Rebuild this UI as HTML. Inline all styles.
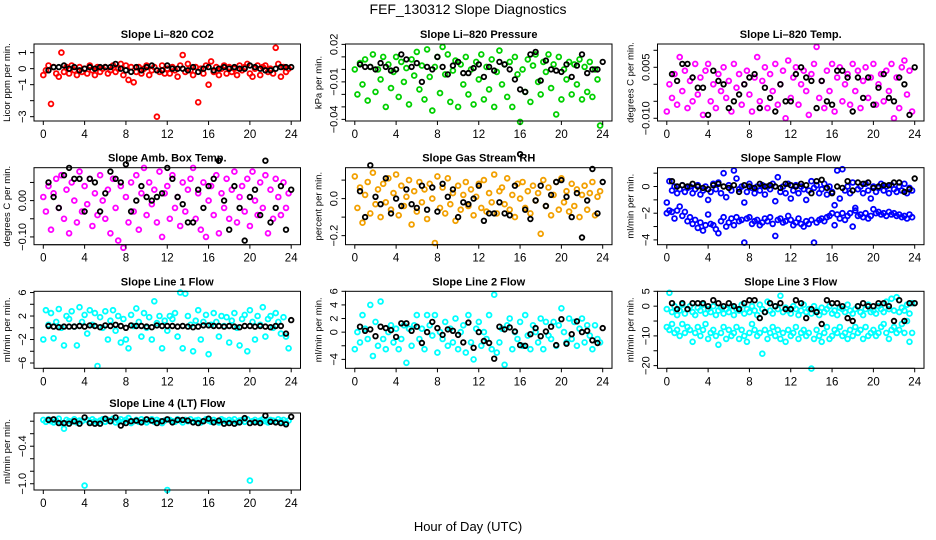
<!DOCTYPE html>
<html><head><meta charset="utf-8"><style>
body{margin:0;background:#fff}
svg{display:block;font-family:"Liberation Sans",Arial,sans-serif}
</style></head><body>
<svg id="chart" width="936" height="540" viewBox="0 0 936 540" xmlns="http://www.w3.org/2000/svg">
<rect width="936" height="540" fill="#fff"/>
<text x="468" y="14" text-anchor="middle" font-size="14">FEF_130312  Slope Diagnostics</text>
<text x="468" y="531" text-anchor="middle" font-size="13">Hour of Day (UTC)</text>
</svg>
<script>
const xTicks=[0,4,8,12,16,20,24];
const co2Color=[-0.4,-0.1,0.2,-2.2,0.1,-0.3,-0.5,1.0,-0.2,0.1,-0.3,0.2,-0.1,-0.4,0.1,-0.2,0.0,-0.3,0.2,-0.1,-0.4,0.1,-0.2,0.0,0.1,-0.3,-0.1,0.2,-0.2,0.0,0.3,-0.4,0.2,-0.7,0.1,-0.85,-0.2,0.1,-0.3,0.0,0.2,-0.4,-0.1,0.1,-3.0,-0.2,0.2,-0.3,0.0,-0.3,0.1,-0.1,-0.5,0.2,0.85,-0.2,0.3,-0.1,-0.4,0.1,-2.1,0.0,-0.3,0.2,-1.0,0.45,-0.2,0.1,-0.4,0.0,0.2,-0.3,0.1,-0.2,0.0,-0.4,0.2,-0.1,0.1,0.3,-0.3,-0.5,0.0,0.2,-0.4,0.1,0.2,-0.2,0.0,-0.3,1.3,0.3,-0.5,0.1,-0.2,0.0];
const co2Black=[-0.1,0.1,0.1,0.2,0.0,0.1,-0.1,0.0,0.1,0.0,0.1,0.1,0.1,0.3,0.0,-0.1,-0.2,0.1,-0.1,0.1,0.2,-0.1,-0.1,0.2,0.0,0.0,0.0,-0.1,0.1,-0.2,0.0,0.1,-0.1,0.0,0.1,0.0,0.1,0.0,0.0,0.2,0.1,0.0,-0.1,-0.1,0.0,0.1,0.1,0.1];
const presColor=[0.000,-0.020,0.005,-0.012,0.008,-0.025,0.002,0.012,-0.018,0.000,-0.008,0.010,-0.030,0.004,-0.015,-0.002,0.010,-0.022,0.006,-0.010,0.001,-0.028,0.008,-0.005,0.014,-0.016,0.003,-0.024,0.016,-0.006,-0.033,0.002,0.010,-0.019,0.018,-0.004,0.012,-0.026,-0.001,0.007,-0.030,0.004,-0.012,0.010,-0.020,0.000,-0.028,0.006,-0.008,0.012,-0.024,0.002,-0.016,0.008,-0.030,-0.002,0.015,-0.012,0.004,-0.022,0.006,-0.030,0.010,-0.004,-0.042,0.000,-0.018,0.008,-0.026,0.003,0.012,-0.010,-0.020,0.006,-0.002,0.012,-0.015,0.004,-0.036,0.010,-0.024,0.000,-0.008,0.006,-0.020,0.004,-0.012,0.008,-0.024,0.002,-0.018,0.006,-0.022,0.000,-0.008,-0.045];
const presBlack=[0.004,0.002,0.002,0.000,0.005,0.002,-0.001,0.000,0.012,0.008,0.002,0.005,-0.010,0.002,0.000,0.010,0.002,-0.004,0.003,0.006,-0.003,-0.003,0.001,0.004,-0.006,0.002,-0.001,0.006,0.004,0.000,-0.008,-0.016,-0.018,0.012,0.014,-0.009,0.007,0.000,-0.001,-0.002,0.004,-0.006,0.003,0.012,-0.003,0.000,0.000,0.006];
const tempColor=[-0.008,0.000,-0.004,0.003,-0.006,0.008,-0.002,0.004,-0.007,0.001,-0.005,0.006,-0.003,0.002,-0.009,0.004,0.006,-0.005,0.000,-0.007,0.003,-0.002,0.005,-0.004,0.001,-0.008,0.006,-0.001,0.003,-0.006,0.000,0.004,-0.003,-0.008,0.002,0.008,-0.005,0.001,0.005,-0.007,0.003,-0.002,0.006,-0.006,0.000,0.004,-0.010,0.007,-0.004,0.002,0.005,-0.006,0.000,0.004,-0.002,-0.009,0.003,0.006,0.011,-0.004,0.001,-0.007,0.004,-0.002,0.006,-0.008,0.002,0.005,-0.005,0.000,0.003,-0.006,0.006,-0.002,0.004,-0.007,0.001,0.005,-0.004,0.002,0.006,-0.006,0.000,0.003,-0.005,0.004,-0.002,0.006,-0.010,0.002,-0.007,0.005,0.007,-0.003,0.004,-0.008];
const tempBlack=[0.003,0.001,0.006,0.006,0.002,-0.001,-0.001,-0.009,0.004,0.001,0.000,-0.007,-0.005,-0.003,0.000,0.002,0.003,-0.007,-0.001,-0.004,-0.008,0.000,-0.005,-0.005,0.003,0.005,0.002,0.001,-0.007,0.001,-0.005,-0.006,0.004,0.004,0.002,-0.008,0.002,-0.004,0.002,-0.006,-0.001,0.003,-0.004,-0.005,0.002,0.000,-0.009,0.005];
const ambColor=[0.01,-0.03,0.04,-0.08,0.02,0.06,-0.02,0.07,-0.05,0.03,-0.09,0.05,0.00,-0.06,0.08,-0.03,0.04,-0.01,0.06,-0.07,0.02,-0.04,0.07,0.00,-0.05,0.03,-0.09,0.06,-0.02,-0.11,0.04,-0.13,0.01,-0.06,0.05,-0.03,0.07,-0.08,0.02,0.09,-0.04,0.05,-0.01,0.03,-0.06,0.08,-0.10,0.02,0.04,-0.05,0.07,-0.02,0.01,-0.07,0.05,-0.03,0.03,0.06,0.09,-0.05,0.02,-0.08,0.05,-0.10,0.00,0.04,-0.04,0.07,-0.09,0.02,-0.02,0.06,-0.05,0.03,0.08,-0.06,0.01,0.04,-0.03,0.06,-0.07,0.08,0.00,-0.04,0.05,-0.02,0.07,-0.09,0.03,-0.05,0.06,0.01,-0.04,0.05,-0.02,0.02];
const ambBlack=[0.05,0.01,-0.02,0.07,0.09,0.06,0.06,-0.03,0.06,0.05,-0.03,0.02,0.08,0.06,0.05,0.10,-0.03,0.00,0.04,0.01,0.00,0.01,0.02,0.09,0.06,0.01,-0.01,-0.06,-0.06,0.03,-0.02,0.04,0.06,0.11,0.00,-0.08,0.04,-0.02,-0.11,0.01,0.03,-0.04,0.11,-0.06,-0.02,0.04,-0.08,0.03];
const rhColor=[0.12,-0.05,0.06,-0.13,0.02,0.09,-0.08,0.14,-0.03,0.05,-0.10,0.08,-0.02,0.11,-0.06,0.03,0.13,-0.09,0.07,-0.04,0.01,0.10,-0.14,0.04,-0.07,0.09,-0.02,0.05,-0.11,0.08,0.00,-0.24,0.12,-0.05,0.06,-0.08,0.11,-0.03,0.03,-0.12,0.07,-0.06,0.02,0.09,-0.04,0.05,-0.09,0.01,0.08,-0.05,0.10,-0.07,0.03,-0.02,0.13,-0.08,0.04,0.06,-0.03,0.11,-0.06,0.02,-0.10,0.08,0.00,0.09,-0.05,0.04,-0.08,0.07,-0.01,0.03,-0.19,0.10,-0.04,0.06,-0.09,0.02,0.09,-0.06,0.11,-0.02,0.04,-0.07,0.08,-0.04,0.05,-0.10,0.02,0.07,-0.06,0.03,0.09,-0.09,0.01,0.04];
const rhBlack=[0.04,-0.10,0.18,0.01,-0.03,0.11,-0.08,0.00,-0.04,0.05,-0.03,-0.05,0.07,-0.06,0.06,-0.07,0.08,0.01,0.05,-0.10,-0.02,-0.03,0.00,0.07,-0.12,-0.08,-0.08,-0.02,-0.08,-0.09,0.07,0.24,-0.06,-0.11,-0.01,0.07,-0.04,0.02,0.09,0.10,0.01,-0.10,0.03,-0.21,-0.01,0.16,-0.08,0.09];
const sampleHigh=[-1.2,0.4,-0.3,0.0,-0.5,-0.2,0.1,-0.4,-0.1,0.0,-0.5,-0.2,0.1,-0.6,-0.3,0.0,-1.0,-0.4,0.2,-0.2,0.3,-0.5,1.0,-0.8,0.1,-0.3,1.2,0.6,-0.2,0.0,-1.2,-0.4,0.2,-0.1,-0.5,0.0,-0.3,0.1,-0.6,0.0,-0.2,0.2,-1.1,0.7,-0.4,0.0,-0.5,0.2,-0.9,-0.3,0.1,-0.5,0.0,-0.2,-1.0,-0.3,0.4,-0.1,0.1,-0.5,-0.2,0.2,-0.6,0.0,-0.4,-1.4,1.2,-0.9,1.3,-0.3,0.0,-0.5,0.3,-1.6,-0.2,0.0,-0.5,0.2,-0.3,-0.9,0.0,-0.4,-0.1,0.2,-0.3,0.0,-0.5,0.1,-0.2,-0.4,0.0,-0.3,0.2,-0.5,-0.1,-0.3];
const sampleLow=[-2.0,-1.8,-1.9,-2.4,-1.8,-1.5,-2.2,-1.9,-2.6,-2.3,-2.8,-2.5,-3.1,-2.7,-3.3,-2.9,-2.1,-2.8,-2.9,-3.2,-3.5,-2.6,-2.3,-3.0,-2.7,-2.4,-2.9,-2.3,-2.6,-2.5,-4.2,-2.4,-2.3,-2.8,-2.6,-2.5,-2.9,-2.7,-2.4,-2.6,-2.3,-2.8,-3.7,-2.5,-2.4,-2.7,-2.6,-2.2,-2.5,-2.9,-2.7,-2.4,-2.8,-3.0,-2.6,-2.8,-2.5,-4.2,-2.7,-2.5,-2.4,-2.6,-2.3,-2.2,-2.0,-2.9,-2.1,-2.4,-2.0,-2.5,-2.2,-2.0,-3.0,-1.8,-2.2,-2.1,-2.3,-2.0,-2.4,-2.2,-1.7,-2.0,-1.9,-2.1,-2.0,-2.2,-1.9,-2.1,-2.0,-2.2,-2.1,-2.3,-2.2,-2.4,-2.1,-2.3];
const sampleBlack=[0.4,0.0,0.1,0.0,0.2,0.0,-0.1,-0.2,0.1,0.2,0.0,-0.1,0.1,-0.4,0.1,0.0,-0.1,0.2,0.0,0.1,0.0,-0.1,0.2,0.1,0.0,0.2,0.1,-0.5,0.4,0.5,-0.1,-0.5,0.0,-0.1,0.4,-0.3,0.3,0.2,0.3,-0.1,0.0,0.1,0.1,0.3,0.3,-0.4,-0.2,0.6];
const line1Color=[-2.0,3.0,0.5,2.5,-1.8,1.0,3.2,0.0,-3.0,2.0,1.5,2.8,0.2,-3.0,3.5,1.0,2.2,-1.0,3.0,0.5,2.5,-6.5,1.8,0.0,2.8,-2.0,1.2,3.0,-0.5,2.0,-2.5,1.5,-2.0,-3.5,2.2,0.3,3.3,1.0,-1.5,2.5,0.0,1.8,-2.0,4.5,0.8,2.0,-3.5,1.2,-0.5,2.0,1.5,2.5,-1.5,6.0,-3.5,5.8,2.0,0.5,-4.0,1.2,3.0,-2.0,1.0,2.2,-4.5,0.5,2.5,1.0,-1.5,2.0,0.3,1.8,-2.5,1.2,2.5,0.0,-3.0,1.5,2.2,-4.0,3.0,1.0,-2.0,2.0,0.5,3.5,-1.5,1.5,2.0,0.0,2.5,1.0,-1.0,1.8,-1.5,-3.5];
const line1Black=[0.3,0.2,0.1,0.2,0.2,0.2,0.3,0.2,0.4,0.3,0.1,0.4,0.3,0.5,0.3,0.0,0.4,0.3,0.3,0.2,0.1,0.4,0.3,0.3,0.3,0.2,0.3,0.2,0.1,0.2,0.4,0.4,0.3,0.3,0.2,0.3,0.2,0.1,0.3,0.3,0.2,0.3,0.2,0.1,0.3,0.3,-1.0,1.3];
const line2Color=[-2.5,0.0,-1.5,2.5,0.5,-1.0,4.0,-3.5,1.5,-2.0,4.5,-1.0,-2.5,0.0,1.0,-1.5,0.5,-2.5,-1.0,1.0,-4.5,0.5,-2.0,1.0,2.5,-1.0,0.5,-2.5,2.5,1.0,-0.5,2.5,-3.0,0.0,-1.0,1.5,-2.0,0.5,-1.5,2.0,-2.5,0.0,1.0,-3.0,2.5,-1.5,-4.0,0.5,1.5,-2.0,0.0,-1.0,2.5,-2.5,5.5,-3.0,-1.5,0.5,-4.8,1.0,2.0,-2.5,0.0,-1.0,1.5,-2.0,2.5,-0.5,-2.5,1.0,0.0,-1.5,2.0,-2.5,1.5,-0.5,-1.0,1.5,-2.0,1.0,3.5,0.0,-1.5,2.0,-1.0,1.5,-2.0,0.5,2.0,-1.5,1.0,-0.5,-2.5,1.0,-1.0,-1.5];
const line2Black=[0.8,0.2,0.4,-0.6,0.8,0.6,0.3,-0.7,1.3,1.3,0.2,0.8,-1.6,0.0,1.5,0.6,-0.4,0.4,0.2,-0.4,-1.5,1.4,-2.3,0.0,-1.3,-1.6,-3.9,0.8,0.4,0.7,0.1,-1.9,-2.0,-0.3,0.6,-0.6,0.1,0.8,-1.9,1.9,-1.7,-0.3,1.6,0.0,0.2,-1.2,-1.6,0.6];
const line3High=[-1.0,4.5,-2.0,0.0,-3.0,-1.5,0.5,-2.5,-1.0,0.0,-2.0,-3.0,-0.5,-1.5,0.5,-2.5,-1.0,-2.0,0.0,-3.0,-1.5,-0.5,-2.5,-1.0,-2.0,0.0,-3.0,-1.0,-1.5,0.5,-2.5,-1.0,-2.0,0.0,-1.5,-3.0,0.5,-1.0,-2.0,1.5,-1.5,-2.5,0.0,-1.0,3.5,-2.0,-0.5,-1.5,-2.5,0.0,-1.0,-3.0,-1.5,0.5,-2.0,-1.0,-2.5,0.0,-1.5,-3.0,-0.5,-2.0,-1.0,0.0,-2.5,-1.5,-3.0,-0.5,-1.0,-2.0,0.5,-1.5,-2.5,-1.0,0.0,-2.0,-3.0,-1.0,0.5,-2.0,-1.5,-2.5,0.0,-1.0,-2.0,1.5,-1.0,2.5,-1.5,3.0,-2.0,-0.5,-1.5,0.5,-2.5,1.0];
const line3Low=[-7,-8,-6,-9,-8,-10,-6,-9,-7,-8,-12,-9,-7,-10,-8,-6,-11,-9,-8,-10,-13,-9,-7,-11,-8,-10,-9,-7,-11,-8,-10,-12,-9,-6,-8,-10,-9,-16,-8,-11,-9,-7,-10,-8,-11,-9,-12,-8,-10,-9,-7,-11,-9,-8,-10,-9,-21,-11,-8,-10,-12,-9,-7,-11,-10,-8,-9,-7,-10,-9,-11,-8,-10,-7,-9,-8,-11,-7,-10,-9,-8,-10,-9,-7,-6,-9,-11,-8,-7,-9,-8,-6,-9,-5,-12,-9];
const line3Black=[1,-1,1,-1,1,1,1,0,2,1,0,1,0,-1,1,2,2,-4,-2,1,0,1,-1,-1,2,1,-4,-1,-2,-6,2,1,1,0,-4,-5,0,1,0,0,1,1,0,-5,2,-5,1,1];
const line4Color=[0.02,-0.01,0.03,0.00,-0.02,0.01,0.04,-0.03,-0.12,0.02,0.00,-0.01,0.03,-0.02,0.01,0.00,-1.03,0.02,-0.01,0.03,0.00,-0.02,0.01,0.03,-0.01,0.02,0.00,0.04,-0.02,0.01,0.03,-0.01,0.02,0.05,-0.03,0.00,0.02,-0.01,0.03,0.00,-0.02,0.01,0.03,-0.01,0.02,0.00,-0.03,0.01,-1.10,0.02,0.00,-0.01,0.03,0.01,-0.02,0.02,0.00,0.03,-0.01,0.01,0.02,-0.02,0.00,0.03,0.01,-0.01,0.02,0.00,-0.02,0.03,0.01,-0.01,0.02,0.00,0.03,-0.02,0.01,0.02,-0.01,0.03,-0.95,0.00,0.02,-0.01,0.01,0.03,0.00,-0.02,0.02,0.01,-0.01,0.03,0.00,0.02,-0.02,0.01];
const line4Black=[0.02,0.03,-0.03,-0.03,-0.04,0.00,-0.04,0.06,-0.03,-0.04,-0.04,0.04,0.00,0.06,-0.07,-0.03,0.00,0.01,-0.02,0.03,0.01,-0.03,0.00,0.03,-0.02,0.02,0.02,0.01,-0.02,-0.03,0.00,0.04,-0.02,0.01,-0.04,-0.03,-0.04,-0.02,0.05,-0.03,-0.02,-0.03,0.09,-0.01,-0.02,-0.03,-0.05,0.07];

const panels=[
 {key:'co2',title:'Slope Li\u2013820 CO2',ylab:'Licor ppm per min.',col:0,row:0,dom:[-3.27,1.54],ticks:[1,0,-1,-2,-3],labels:['1','0','\u22121','','\u22123'],color:'#ff0000',series:[co2Color],black:co2Black},
 {key:'pressure',title:'Slope Li\u2013820 Pressure',ylab:'kPa per min.',col:1,row:0,dom:[-0.0413,0.0203],ticks:[0.02,0.01,0,-0.01,-0.02,-0.03,-0.04],labels:['0.02','','','\u22120.01','','','\u22120.04'],color:'#00d000',series:[presColor],black:presBlack},
 {key:'temp',title:'Slope Li\u2013820 Temp.',ylab:'degrees C per min.',col:2,row:0,dom:[-0.0108,0.01185],ticks:[0.01,0.005,0,-0.005,-0.01],labels:['','0.005','','','\u22120.010'],color:'#ff00ff',series:[tempColor],black:tempBlack},
 {key:'amb',title:'Slope Amb. Box Temp.',ylab:'degrees C per min.',col:0,row:1,dom:[-0.1214,0.0906],ticks:[0.05,0,-0.05,-0.1],labels:['','0.00','','\u22120.10'],color:'#ff00ff',series:[ambColor],black:ambBlack},
 {key:'rh',title:'Slope Gas Stream RH',ylab:'percent per min.',col:1,row:1,dom:[-0.249,0.167],ticks:[0.1,0,-0.1,-0.2],labels:['','0.0','','\u22120.2'],color:'#f2a000',series:[rhColor],black:rhBlack},
 {key:'sample',title:'Slope Sample Flow',ylab:'ml/min per min.',col:2,row:1,dom:[-4.36,1.41],ticks:[1,0,-1,-2,-3,-4],labels:['','0','','\u22122','','\u22124'],color:'#0000ff',series:[sampleHigh,sampleLow],black:sampleBlack},
 {key:'line1',title:'Slope Line 1 Flow',ylab:'ml/min per min.',col:0,row:2,dom:[-6.9,6.21],ticks:[6,4,2,0,-2,-4,-6],labels:['6','','2','','\u22122','','\u22126'],color:'#00ffff',series:[line1Color],black:line1Black},
 {key:'line2',title:'Slope Line 2 Flow',ylab:'ml/min per min.',col:1,row:2,dom:[-5.31,6.0],ticks:[6,4,2,0,-2,-4],labels:['6','4','2','0','','\u22124'],color:'#00ffff',series:[line2Color],black:line2Black},
 {key:'line3',title:'Slope Line 3 Flow',ylab:'ml/min per min.',col:2,row:2,dom:[-20.9,5.0],ticks:[5,0,-5,-10,-15,-20],labels:['5','0','','\u221210','','\u221220'],color:'#00ffff',series:[line3High,line3Low],black:line3Black},
 {key:'line4',title:'Slope Line 4 (LT) Flow',ylab:'ml/min per min.',col:0,row:3,dom:[-1.10,0.131],ticks:[0,-0.2,-0.4,-0.6,-0.8,-1.0],labels:['','','\u22120.4','','','\u22121.0'],color:'#00ffff',series:[line4Color],black:line4Black}
];
const NS='http://www.w3.org/2000/svg';
const svg=document.getElementById('chart');
function mk(tag,attrs,parent){const e=document.createElementNS(NS,tag);for(const k in attrs)e.setAttribute(k,attrs[k]);parent.appendChild(e);return e;}
const colLeft=[34,345.5,657.5], colW=266.5;
const rowTop=[44,167.7,291.3,413], rowH=77;
panels.forEach(p=>{
 const L=colLeft[p.col], T=rowTop[p.row], R=L+colW, B=T+rowH;
 const x0=L+9.3, x1=R-9.3;
 const xs=h=>x0+(h/24)*(x1-x0);
 const ys=v=>B-(v-p.dom[0])/(p.dom[1]-p.dom[0])*(B-T);
 const g=mk('g',{},svg);
 
 
 const t=mk('text',{x:(L+R)/2,y:T-6,'text-anchor':'middle','font-size':'11','font-weight':'bold'},g);
 t.textContent=p.title;
 
 
 const yl=mk('text',{x:0,y:0,'text-anchor':'middle','font-size':'9.5',transform:`translate(${L-24},${(T+B)/2}) rotate(-90)`},g);
 yl.textContent=p.ylab;
 
 
 const pts=mk('g',{fill:'none','stroke-width':'1.8'},g);
 
 
 p.series.forEach(arr=>{arr.forEach((v,i)=>{const c=mk('circle',{cx:xs(i*0.25).toFixed(1),cy:ys(v).toFixed(1),r:2.4,stroke:p.color},pts);
   
   });});
 p.black.forEach((v,i)=>{const c=mk('circle',{cx:xs(0.5+i*0.5).toFixed(1),cy:ys(v).toFixed(1),r:2.3,stroke:'#000'},pts);
   
   });
 const box=mk('rect',{x:L,y:T,width:colW,height:rowH,fill:'none',stroke:'#000','stroke-width':'1'},g);
 
 
 const xa=mk('g',{stroke:'#000','stroke-width':'1'},g);
 
 
 mk('line',{x1:xs(0),x2:xs(24),y1:B,y2:B},xa);
 xTicks.forEach(h=>{mk('line',{x1:xs(h),x2:xs(h),y1:B,y2:B+4},xa);
  const tx=mk('text',{x:xs(h),y:B+17,'text-anchor':'middle','font-size':'11.5',stroke:'none',fill:'#000'},xa);
  tx.textContent=h;
  
  });
 const ya=mk('g',{stroke:'#000','stroke-width':'1'},g);
 
 
 mk('line',{x1:L,x2:L,y1:ys(p.ticks[0]),y2:ys(p.ticks[p.ticks.length-1])},ya);
 p.ticks.forEach((v,i)=>{const y=ys(v);mk('line',{x1:L-4,x2:L,y1:y,y2:y},ya);
  if(p.labels[i]){const tx=mk('text',{x:0,y:0,'text-anchor':'middle','font-size':'11',stroke:'none',fill:'#000',transform:`translate(${L-8},${y}) rotate(-90)`},ya);
   tx.textContent=p.labels[i];
   
   }});
});
</script>
</body></html>
